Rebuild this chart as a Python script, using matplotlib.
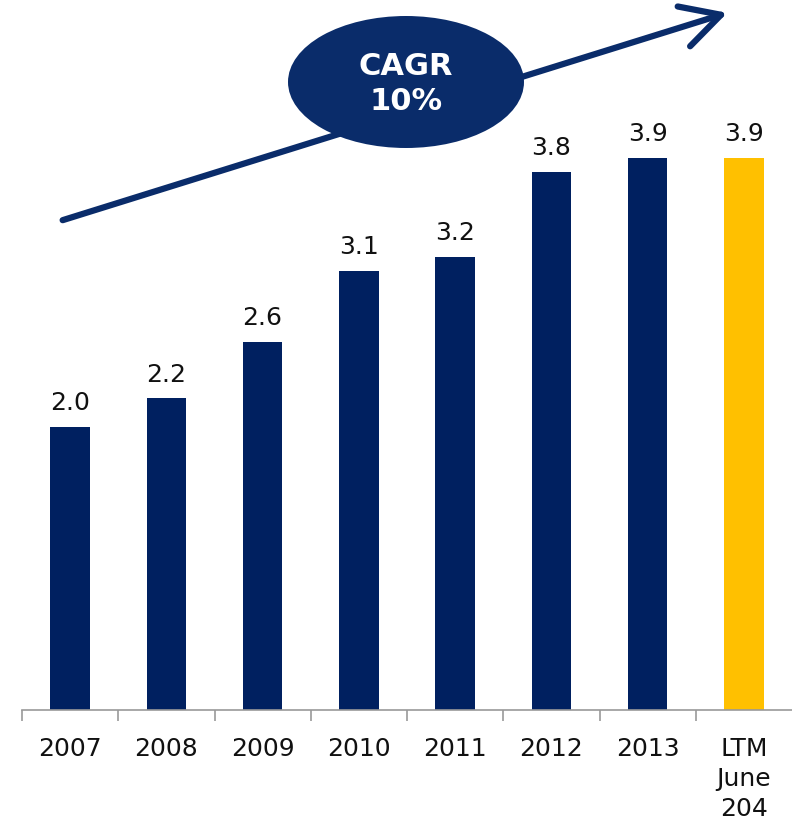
"""Bar chart with CAGR growth arrow."""
import matplotlib
matplotlib.use('Agg')
import matplotlib.pyplot as plt
from matplotlib.patches import Ellipse, FancyArrowPatch

categories = ['2007', '2008', '2009', '2010', '2011', '2012', '2013', 'LTM\nJune\n204']
values = [2.0, 2.2, 2.6, 3.1, 3.2, 3.8, 3.9, 3.9]
labels = ['2.0', '2.2', '2.6', '3.1', '3.2', '3.8', '3.9', '3.9']
bar_colors = ['#002060'] * 7 + ['#FFC000']

navy = '#0A2C6A'

plt.rcParams['font.family'] = ['DejaVu Sans']

fig = plt.figure(figsize=(7.92, 8.28), dpi=100)
ax = fig.add_axes([22 / 792, 117 / 828, 770 / 792, 711 / 828])

x = range(len(categories))
ax.bar(x, values, width=0.41, color=bar_colors, zorder=2)
for xi, v, lab in zip(x, values, labels):
    ax.annotate(lab, (xi, v), xytext=(0, 9), textcoords='offset points',
                ha='center', va='bottom', fontsize=18, color='#111111')

ax.set_xlim(-0.5, len(categories) - 0.5)
ax.set_ylim(0, 5.02)
ax.set_xticks(list(x))
ax.set_xticklabels(categories, fontsize=18, color='#111111', linespacing=1.3)
ax.set_xticks([i - 0.5 for i in range(len(categories))], minor=True)
ax.tick_params(axis='x', which='major', length=0, pad=19)
ax.tick_params(axis='x', which='minor', length=8, width=1.2, color='#999999', direction='out')
ax.set_yticks([])
for side in ['left', 'right', 'top']:
    ax.spines[side].set_visible(False)
ax.spines['bottom'].set_color('#999999')
ax.spines['bottom'].set_linewidth(1.2)

# growth arrow, behind the ellipse
W, H = 792, 828
arrow = FancyArrowPatch((60 / W, 1 - 222 / H), (730 / W, 1 - 13 / H),
                        transform=fig.transFigure,
                        arrowstyle='->,head_length=1.4,head_width=0.75',
                        mutation_scale=20, lw=4.5, color=navy,
                        capstyle='round', joinstyle='round', zorder=5)
fig.add_artist(arrow)

ell = Ellipse((406 / W, 1 - 83 / H), 236 / W, 132 / H, transform=fig.transFigure,
              facecolor=navy, edgecolor='none', zorder=6)
fig.add_artist(ell)
fig.text(406 / W, 1 - 84 / H, 'CAGR\n10%', ha='center', va='center', color='white',
         fontsize=22, fontweight='bold', linespacing=1.25, zorder=7)

fig.savefig('out.png', dpi=100, facecolor='white')
